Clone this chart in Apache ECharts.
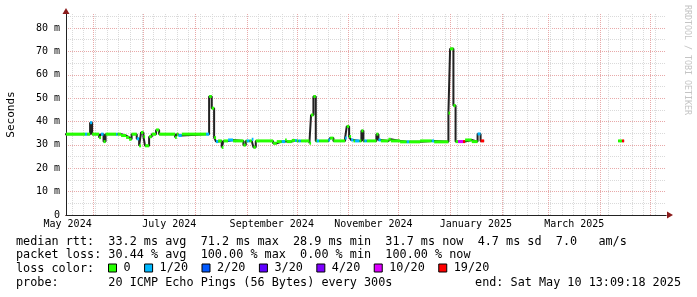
<!DOCTYPE html>
<html><head><meta charset="utf-8">
<script src="https://cdn.jsdelivr.net/npm/echarts@6/dist/echarts.min.js"></script>
<style>html,body{margin:0;padding:0;background:#fff}#c{width:697px;height:297px}</style>
</head><body><div id="c"></div>
<script>
// ---- data (median RTT in ms, loss = lost pings out of 20) ----
const times = [
 '2024-05-15 00:00','2024-05-27 00:00','2024-05-28 05:00','2024-05-30 00:00','2024-05-31 05:00',
 '2024-06-04 10:00','2024-06-05 14:00','2024-06-07 02:00','2024-06-08 07:00','2024-06-14 14:00',
 '2024-06-15 10:00','2024-06-17 14:00','2024-06-20 14:00','2024-06-22 10:00','2024-06-23 22:00',
 '2024-06-27 00:00','2024-06-28 10:00','2024-06-29 14:00','2024-07-01 00:00','2024-07-02 00:00',
 '2024-07-04 10:00','2024-07-06 00:00','2024-07-08 14:00','2024-07-10 10:00','2024-07-20 00:00',
 '2024-07-21 00:00','2024-07-22 00:00','2024-07-24 00:00','2024-08-07 14:00','2024-08-09 10:00',
 '2024-08-11 00:00','2024-08-12 10:00','2024-08-13 14:00','2024-08-14 19:00','2024-08-17 00:00',
 '2024-08-18 00:00','2024-08-20 19:00','2024-08-23 19:00','2024-08-30 00:00','2024-08-31 10:00',
 '2024-09-01 00:00','2024-09-02 14:00','2024-09-04 00:00','2024-09-05 00:00','2024-09-06 10:00',
 '2024-09-16 19:00','2024-09-19 00:00','2024-09-22 00:00','2024-09-24 00:00','2024-09-25 00:00',
 '2024-09-28 00:00','2024-09-30 00:00','2024-10-01 00:00','2024-10-02 00:00','2024-10-03 10:00',
 '2024-10-08 14:00','2024-10-09 14:00','2024-10-11 00:00','2024-10-12 10:00','2024-10-13 00:00',
 '2024-10-14 10:00','2024-10-20 00:00','2024-10-21 00:00','2024-10-23 00:00','2024-10-30 00:00',
 '2024-10-31 00:00','2024-11-01 10:00','2024-11-02 14:00','2024-11-04 00:00','2024-11-05 00:00',
 '2024-11-07 14:00','2024-11-08 19:00','2024-11-10 00:00','2024-11-10 14:00','2024-11-12 00:00',
 '2024-11-17 19:00','2024-11-19 00:00','2024-11-20 10:00','2024-11-25 00:00','2024-11-26 10:00',
 '2024-12-02 00:00','2024-12-06 00:00','2024-12-07 10:00','2024-12-14 00:00','2024-12-21 00:00',
 '2024-12-22 10:00','2024-12-31 00:00','2025-01-01 00:00','2025-01-03 00:00','2025-01-04 07:00',
 '2025-01-05 19:00','2025-01-08 19:00','2025-01-10 00:00','2025-01-14 00:00','2025-01-17 12:00',
 '2025-01-19 07:00','2025-01-21 10:00','2025-04-11 19:00','2025-04-14 05:00','2025-04-15 10:00'
];
const rtt = [
 34.6,34.6,34.6,39.5,34.6, 33.1,34.6,31.4,34.6,34.6, 34.6,34.0,33.2,32.4,34.6,
 32.6,29.6,35.3,33.5,29.6, 33.5,34.6,36.4,34.6,33.2, 34.6,34.0,34.6,34.6,50.7,
 45.7,33.1,31.4,31.7,28.9, 31.7,32.1,31.7,29.9,31.7, 31.7,31.7,32.4,29.0,31.7,
 30.7,31.4,31.4,32.1,31.4, 31.9,31.9,31.7,31.7,31.7, 30.7,42.8,50.7,31.7,31.7,
 31.7,32.1,32.9,31.7,32.9, 37.9,33.6,32.1,31.7,31.7, 31.7,36.0,31.7,31.7,31.7,
 34.6,32.1,31.7,32.4,31.7, 31.3,31.3,31.3,31.7,31.7, 31.3,43.6,71.1,46.8,31.4,
 31.4,31.4,32.1,31.4,34.7, 31.7,null,31.7,31.7,null
];
const lossLevel = [
 0,1,0,1,0, 0,1,0,0,1, 0,0,0,0,0,
 1,0,0,0,0, 0,0,0,0,0, 0,1,0,1,0,
 0,0,1,0,0, 0,1,0,0,0, 1,0,1,0,0,
 0,0,1,0,0, 0,1,0,1,0, 0,0,0,0,1,
 0,1,0,0,1, 0,0,1,0,1, 0,0,0,1,0,
 0,1,0,0,0, 0,1,0,0,1, 0,0,0,0,0,
 10,19,0,0,1, 19,null,0,19,null
];
const lossSteps  = [0, 1, 2, 3, 4, 10, 19];
const lossNames  = ['0', '1/20', '2/20', '3/20', '4/20', '10/20', '19/20'];
const lossColors = ['#26ff00', '#00b8ff', '#0059ff', '#5e00ff', '#7e00ff', '#dd00ff', '#ff0000'];
const yMajorTicks = [0, 10, 20, 30, 40, 50, 60, 70, 80];
const yMinorTicks = [0, 5, 10, 15, 20, 25, 30, 35, 40, 45, 50, 55, 60, 65, 70, 75, 80, 85];
const yMax = 86;
const monthNames = ['January','February','March','April','May','June','July','August','September','October','November','December'];
const endTime = '2025-05-10 13:09:18';
const rangeDays = 360;
const statsLines = [
 'median rtt:  33.2 ms avg  71.2 ms max  28.9 ms min  31.7 ms now  4.7 ms sd  7.0   am/s',
 'packet loss: 30.44 % avg  100.00 % max  0.00 % min  100.00 % now',
 'loss color:',
 'probe:       20 ICMP Echo Pings (56 Bytes) every 300s'
];
const endText = 'end: Sat May 10 13:09:18 2025';
const watermark = 'RRDTOOL / TOBI OETIKER';

// ---- helpers ----
function parseT(s){
  const m = s.match(/(\d+)-(\d+)-(\d+) (\d+):(\d+)(?::(\d+))?/);
  return Date.UTC(+m[1], +m[2]-1, +m[3], +m[4], +m[5], +(m[6]||0));
}
const DAY = 86400000;
const endMs = parseT(endTime);
const startMs = endMs - rangeDays*DAY;
const T = times.map(parseT);

const monthStarts = [], labelMids = [], sundays = [];
for (let k = 0; k < 24; k++) {
  const t0 = Date.UTC(2024, k, 1), t1 = Date.UTC(2024, k+1, 1);
  if (t0 > startMs && t0 < endMs) monthStarts.push(t0);
  const mid = (t0 + t1) / 2;
  if (k % 2 === 0 && mid > startMs && mid < endMs) labelMids.push(mid);
}
let d = Date.UTC(2024, 4, 15);
while (new Date(d).getUTCDay() !== 0) d += DAY;
for (; d < endMs; d += 7*DAY) sundays.push(d);

const lineData = T.map((t, i) => [t, rtt[i]]);
const segSeries = lossSteps.map((lv, k) => {
  const data = [];
  for (let i = 0; i < T.length - 1; i++) {
    if (rtt[i] != null && lossLevel[i] === lv) data.push([T[i], T[i+1], rtt[i]]);
  }
  return {
    name: lossNames[k], type: 'custom', xAxisIndex: 1, yAxisIndex: 1, z: 4, clip: true,
    itemStyle: {color: lossColors[k]},
    encode: {x: [0, 1], y: 2},
    renderItem: function (params, api) {
      const p0 = api.coord([api.value(0), api.value(2)]);
      const p1 = api.coord([api.value(1), api.value(2)]);
      return {type: 'rect', shape: {x: p0[0], y: p0[1] - 1.5, width: Math.max(1, p1[0] - p0[0]), height: 3},
              style: {fill: lossColors[k]}};
    },
    data: data
  };
});

const MONO = '"DejaVu Sans Mono", monospace';
const FS = 11.8;
const AXIS_C = '#222';
const ARROW_C = '#8b1c1c';
const GRID_C = '#dadada';
const MGRID_C = '#e8a9a9';

const chart = echarts.init(document.getElementById('c'), null, {renderer: 'canvas'});
const graphics = statsLines.map((s, i) => ({
  type: 'text', x: 16, y: [241.7, 255, 269.3, 283.3][i],
  style: {text: s, fill: '#000', font: FS + 'px ' + MONO, textAlign: 'left', textVerticalAlign: 'middle'}
}));
graphics.push({type: 'text', x: 681, y: 283.3,
  style: {text: endText, fill: '#000', font: FS + 'px ' + MONO, textAlign: 'right', textVerticalAlign: 'middle'}});
graphics.push({type: 'text', x: 687, y: 60, rotation: -Math.PI/2,
  style: {text: watermark, fill: '#c4c4c4', font: '8.3px ' + MONO, textAlign: 'center', textVerticalAlign: 'middle'}});

chart.setOption({
  animation: false,
  backgroundColor: '#fff',
  grid: {left: 66, right: 31, top: 14, bottom: 82, containLabel: false, outerBoundsMode: 'none'},
  xAxis: [
    {type: 'value', position: 'bottom', min: startMs, max: endMs,
     axisLine: {show: true, lineStyle: {color: ARROW_C, width: 1}, symbol: ['none', 'triangle'], symbolSize: [7, 6], symbolOffset: [0, 4]},
     axisTick: {show: false, customValues: sundays}, axisLabel: {show: false},
     splitLine: {show: true, lineStyle: {color: GRID_C, width: 1, type: [1, 1]}}},
    {type: 'value', position: 'bottom', min: startMs, max: endMs,
     axisLine: {show: true, lineStyle: {color: AXIS_C, width: 1}},
     axisTick: {show: false, customValues: monthStarts},
     axisLabel: {show: true, customValues: labelMids, margin: 4, color: '#000', fontFamily: MONO, fontSize: 10,
       formatter: v => { const dt = new Date(v); return monthNames[dt.getUTCMonth()] + ' ' + dt.getUTCFullYear(); }},
     splitLine: {show: true, lineStyle: {color: MGRID_C, width: 1, type: [1, 1]}}}
  ],
  yAxis: [
    {type: 'value', position: 'left', min: 0, max: yMax,
     axisLine: {show: true, lineStyle: {color: ARROW_C, width: 1}, symbol: ['none', 'triangle'], symbolSize: [7, 6], symbolOffset: [0, 3]},
     axisTick: {show: false, customValues: yMinorTicks}, axisLabel: {show: false},
     splitLine: {show: true, lineStyle: {color: GRID_C, width: 1, type: [1, 1]}}},
    {type: 'value', position: 'left', min: 0, max: yMax,
     name: 'Seconds', nameLocation: 'middle', nameGap: 49,
     nameTextStyle: {fontFamily: MONO, fontSize: 11, color: '#000'},
     axisLine: {show: true, lineStyle: {color: AXIS_C, width: 1}},
     axisTick: {show: false, customValues: yMajorTicks},
     axisLabel: {show: true, customValues: yMajorTicks, margin: 6, color: '#000', fontFamily: MONO, fontSize: 10,
       formatter: v => v === 0 ? '0' : v + ' m'},
     splitLine: {show: true, lineStyle: {color: MGRID_C, width: 1, type: [1, 1]}}}
  ],
  legend: {
    data: lossNames, left: 108, top: 262, orient: 'horizontal', selectedMode: false,
    icon: 'rect', itemWidth: 8, itemHeight: 8, itemGap: 13.5, padding: 0,
    itemStyle: {borderColor: '#000', borderWidth: 1},
    textStyle: {fontFamily: MONO, fontSize: FS, color: '#000', padding: [0, 0, 0, 2]}
  },
  graphic: graphics,
  series: [
    {type: 'line', xAxisIndex: 1, yAxisIndex: 1, step: 'end', symbol: 'none', z: 3,
     lineStyle: {color: '#222', width: 2}, connectNulls: false, data: lineData, silent: true}
  ].concat(segSeries)
});
</script>
</body></html>
